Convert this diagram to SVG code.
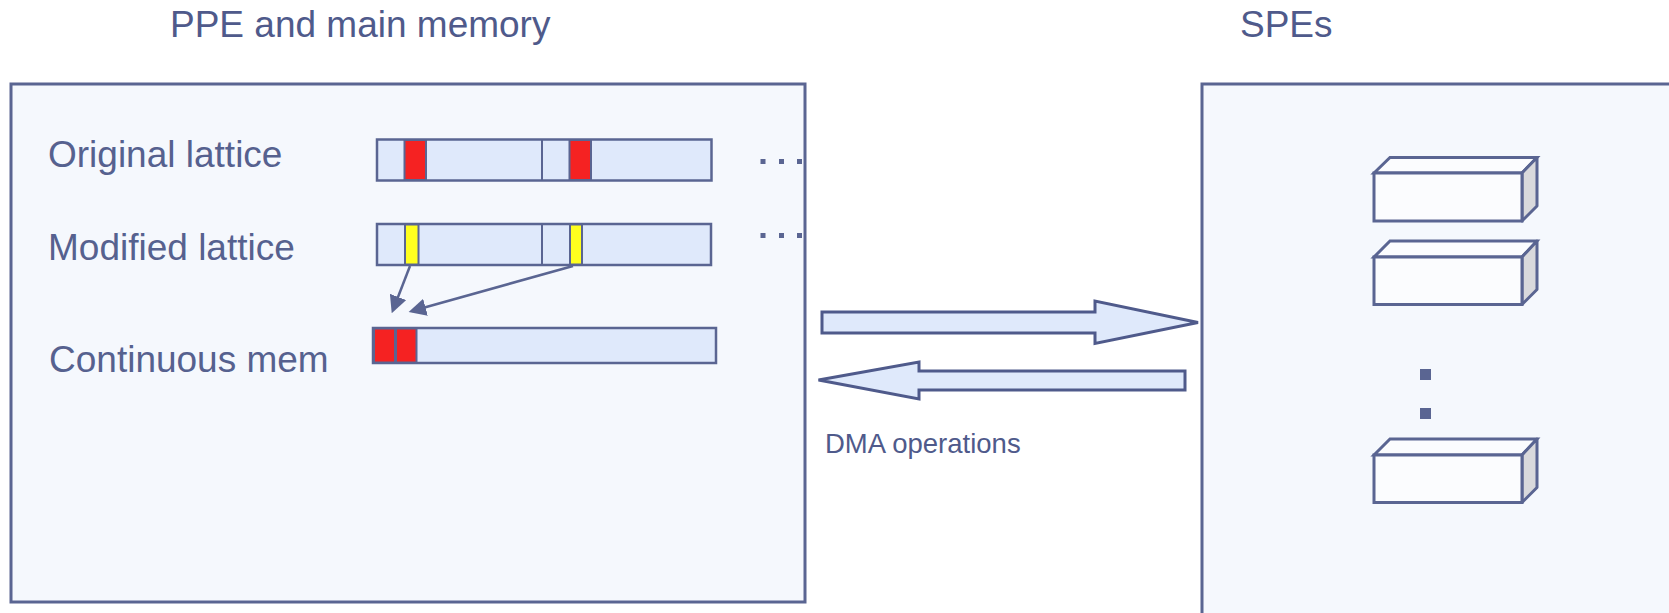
<svg xmlns="http://www.w3.org/2000/svg" width="1669" height="613" viewBox="0 0 1669 613">
  <defs>
    <style>
      .title { font-family: "Liberation Sans", Arial, sans-serif; font-size: 37px; fill: #4f5a8b; }
      .label { font-family: "Liberation Sans", Arial, sans-serif; font-size: 37px; fill: #56618f; }
      .small { font-family: "Liberation Sans", Arial, sans-serif; font-size: 27.5px; fill: #4f5a8b; }
      .panel { fill: #f5f8fd; stroke: #5a6592; stroke-width: 3; }
      .bar { fill: #dfe9fb; stroke: #5a6592; stroke-width: 2.5; }
      .seg { stroke: #5a6592; stroke-width: 2; }
      .red { fill: #f52222; }
      .yellow { fill: #ffff1e; }
      .div { stroke: #5a6592; stroke-width: 2; fill: none; }
      .dot { fill: #5a6592; }
      .link { stroke: #5a6592; stroke-width: 2.5; fill: none; marker-end: url(#head); }
      .dma { fill: #dfe9fb; stroke: #4f5a8b; stroke-width: 3; stroke-linejoin: miter; }
      .front { fill: #fbfcfe; stroke: #5a6592; stroke-width: 3; }
      .side { fill: #d9d9dc; stroke: #5a6592; stroke-width: 3; stroke-linejoin: round; }
    </style>
    <marker id="head" viewBox="0 0 10 10" refX="8" refY="5" markerWidth="7" markerHeight="7" orient="auto" markerUnits="strokeWidth">
      <path d="M0,0 L10,5 L0,10 z" fill="#5a6592"/>
    </marker>
  </defs>

  <rect width="1669" height="613" fill="#ffffff"/>

  <!-- headings -->
  <text class="title" x="170" y="37">PPE and main memory</text>
  <text class="title" x="1240" y="37">SPEs</text>

  <!-- PPE side: main memory panel -->
  <g id="ppe">
    <rect class="panel" x="11" y="84" width="794" height="518"/>
  </g>

  <!-- SPE side panel, runs off the page -->
  <g id="spe-panel">
    <rect class="panel" x="1202" y="84" width="480" height="540"/>
  </g>

  <!-- row labels -->
  <g id="labels">
    <text class="label" x="48" y="167">Original lattice</text>
    <text class="label" x="48" y="260">Modified lattice</text>
    <text class="label" x="49" y="372">Continuous mem</text>
  </g>

  <!-- original lattice strip -->
  <g id="original">
    <rect class="bar" x="377" y="139.5" width="334.5" height="41"/>
    <rect class="red seg" x="404.5" y="140" width="21.5" height="40"/>
    <rect class="red seg" x="569.5" y="140" width="21.5" height="40"/>
    <line class="div" x1="542" y1="140" x2="542" y2="180"/>
    <rect class="dot" x="760.5" y="159" width="5" height="5"/>
    <rect class="dot" x="779" y="159" width="5" height="5"/>
    <rect class="dot" x="797" y="159" width="5" height="5"/>
  </g>

  <!-- modified lattice strip -->
  <g id="modified">
    <rect class="bar" x="377" y="224" width="334" height="41"/>
    <rect class="yellow seg" x="405" y="224.5" width="13.5" height="40"/>
    <rect class="yellow seg" x="570" y="224.5" width="12" height="40"/>
    <line class="div" x1="542" y1="224.5" x2="542" y2="264.5"/>
    <rect class="dot" x="760.5" y="233" width="5" height="5"/>
    <rect class="dot" x="779" y="233" width="5" height="5"/>
    <rect class="dot" x="797" y="233" width="5" height="5"/>
  </g>

  <!-- continuous memory strip -->
  <g id="continuous">
    <rect class="bar" x="373" y="328" width="343" height="35"/>
    <rect class="red seg" x="374" y="328.5" width="21" height="34"/>
    <rect class="red seg" x="396" y="328.5" width="20.5" height="34"/>
  </g>

  <!-- SPE local stores -->
  <g id="spe1">
    <polygon class="front" points="1374,173 1390,157.5 1537,157.5 1522,173"/>
    <polygon class="side" points="1522,173 1537,157.5 1537,206 1522,221"/>
    <rect class="front" x="1374" y="173" width="148" height="48"/>
  </g>
  <g id="spe2">
    <polygon class="front" points="1374,257 1390,241 1537,241 1522,257"/>
    <polygon class="side" points="1522,257 1537,241 1537,289.5 1522,304.5"/>
    <rect class="front" x="1374" y="257" width="148" height="47.5"/>
  </g>
  <g id="spe-more">
    <rect class="dot" x="1420" y="369" width="11" height="11"/>
    <rect class="dot" x="1420" y="408" width="11" height="11"/>
  </g>
  <g id="spe3">
    <polygon class="front" points="1374,455 1390,439 1537,439 1522,455"/>
    <polygon class="side" points="1522,455 1537,439 1537,487.5 1522,502.5"/>
    <rect class="front" x="1374" y="455" width="148" height="47.5"/>
  </g>

  <!-- connectors: gather arrows and DMA transfers -->
  <g id="connectors">
    <line class="link" x1="410" y1="266" x2="393" y2="310"/>
    <line class="link" x1="573" y1="266" x2="412" y2="311"/>
    <polygon class="dma" points="822,312 1095,312 1095,301 1198,322.5 1095,343.5 1095,333 822,333"/>
    <polygon class="dma" points="1185,371 919,371 919,362 818.5,380 919,399 919,390 1185,390"/>
  </g>

  <text class="small" x="825" y="453">DMA operations</text>
</svg>
